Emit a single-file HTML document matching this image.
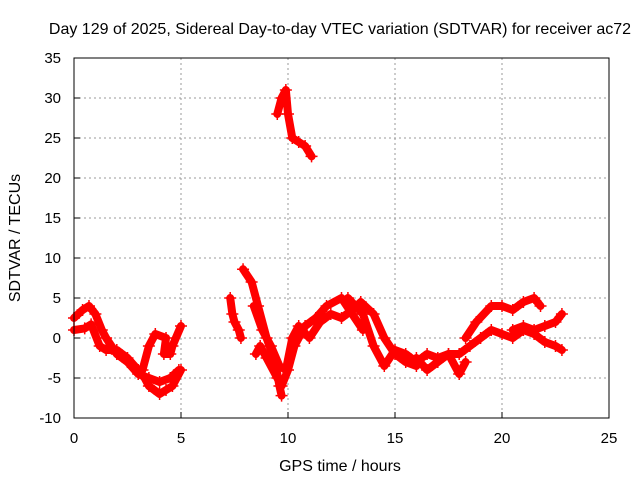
<!DOCTYPE html>
<html><head><meta charset="utf-8"><style>
body{margin:0;background:#fff}
svg{display:block;font-family:"Liberation Sans",sans-serif}
</style></head><body>
<svg id="c" width="640" height="480" viewBox="0 0 640 480">
<rect width="640" height="480" fill="#fff"/>
<text x="340" y="34" font-size="16" text-anchor="middle">Day 129 of 2025, Sidereal Day-to-day VTEC variation (SDTVAR) for receiver ac72</text>
<text x="340" y="471" font-size="16" text-anchor="middle">GPS time / hours</text>
<text transform="translate(20,238) rotate(-90)" font-size="16" text-anchor="middle">SDTVAR / TECUs</text>
<g id="grid"></g><g id="ticks"></g><g id="series"></g>
<rect x="74" y="58" width="535" height="360" fill="none" stroke="#000"/>
</svg>
<script>
const xTicks=[0,5,10,15,20,25];
const yTicks=[-10,-5,0,5,10,15,20,25,30,35];
const track1=[[0,2.5],[0.4,3.5],[0.7,4],[1.0,3],[1.3,1],[1.5,0],[2,-2],[2.5,-3],[3,-4.5],[3.5,-5],[4,-5.5],[4.5,-5],[4.9,-4]];
const track2=[[0,1],[0.5,1.2],[0.8,1.7],[1.2,-1],[1.5,-1.5],[2,-1.5],[2.5,-2.5],[3,-4],[3.3,-5],[3.5,-6],[4,-7],[4.3,-6.5],[4.6,-6],[5,-4]];
const track3=[[3.2,-4],[3.5,-1],[3.8,0.5],[4.3,0],[4.2,-2],[4.5,-2],[4.6,-1],[5,1.5]];
const track4=[[7.9,8.6],[8.3,7],[8.6,4],[9,0],[9.4,-3],[9.6,-6],[9.7,-7.2]];
const track5=[[8.5,-2],[8.7,-1],[9,-2.5],[9.5,-5],[9.7,-6],[10,-4],[10.3,-1],[10.8,1.5],[11.3,2.5],[11.8,4],[12.5,5],[13,3],[13.5,1]];
const track6=[[8.4,4],[8.8,1],[9.2,-1],[9.6,-3.5],[9.9,-4],[10.2,0],[10.5,1.5],[11,0],[11.5,2],[12,3],[12.5,2.5],[13,3.5],[13.4,4.5],[14,3],[14.5,0],[15,-2],[15.5,-3],[16,-3.5]];
const track7=[[12.8,5],[13.5,3],[14,-1],[14.5,-3.5],[15,-1.5],[15.5,-2],[16,-3],[16.5,-2],[17,-2.5],[17.5,-2],[18,-2],[18.5,-1],[19,0],[19.5,1],[20,0.5],[20.5,0],[21,1],[21.5,0.5],[22,-0.5],[22.5,-1],[22.8,-1.5]];
const track8=[[18.3,0],[18.8,2],[19.5,4],[20,4],[20.5,3.5],[21,4.5],[21.5,5],[21.8,4]];
const track9=[[20.5,1],[21,1.5],[21.5,1],[22,1.5],[22.5,2],[22.8,3]];
const track10=[[16,-2.5],[16.5,-4],[17,-3],[17.5,-2],[18,-4.5],[18.3,-3]];
const track11=[[7.3,5],[7.4,3],[7.5,2],[7.7,1],[7.8,0]];
const track12=[[9.5,28],[9.7,30],[9.9,31],[10,28],[10.2,25],[10.5,24.5],[10.8,24],[11.1,22.7]];
const tracks=[track1,track2,track3,track4,track5,track6,track7,track8,track9,track10,track11,track12];
const NS='http://www.w3.org/2000/svg';
const X=h=>74+h*(535/25), Y=v=>418-(v+10)*8;
const g=document.getElementById('grid'),t=document.getElementById('ticks'),s=document.getElementById('series');
function mk(tag,a,p){const e=document.createElementNS(NS,tag);for(const k in a)e.setAttribute(k,a[k]);p.appendChild(e);return e;}
xTicks.forEach(v=>{
 if(v>0&&v<25){const l=mk('line',{x1:X(v),x2:X(v),y1:58,y2:418,stroke:'#999','stroke-dasharray':'2,3'},g);
 
 }
 mk('line',{x1:X(v),x2:X(v),y1:418,y2:412,stroke:'#000'},t);
 const tx=mk('text',{x:X(v),y:443,'font-size':15,'text-anchor':'middle'},t);tx.textContent=v;
 
 
});
yTicks.forEach(v=>{
 if(v>-10&&v<35){const l=mk('line',{x1:74,x2:609,y1:Y(v),y2:Y(v),stroke:'#999','stroke-dasharray':'2,3'},g);
 
 }
 mk('line',{x1:74,x2:80,y1:Y(v),y2:Y(v),stroke:'#000'},t);
 const tx=mk('text',{x:61,y:Y(v)+5,'font-size':15,'text-anchor':'end'},t);tx.textContent=v;
 
 
});
tracks.forEach(tr=>{
 const pl=mk('polyline',{points:tr.map(p=>X(p[0])+','+Y(p[1])).join(' '),fill:'none',stroke:'#f00','stroke-width':8,'stroke-linejoin':'round','stroke-linecap':'round'},s);
 
 
 tr.forEach(p=>{
  const m=mk('path',{d:`M${X(p[0])-6},${Y(p[1])}h12M${X(p[0])},${Y(p[1])-6}v12`,stroke:'#f00','stroke-width':1.5},s);
  
  
 });
});
</script>
</body></html>
